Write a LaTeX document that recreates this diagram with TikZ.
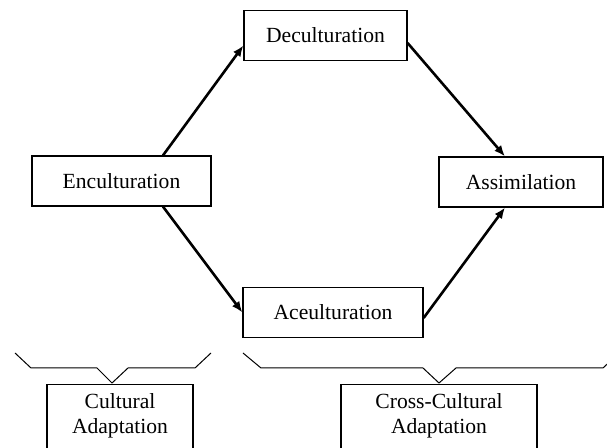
\documentclass[tikz,border=0pt]{standalone}
\usepackage{fontspec}
\setmainfont{Liberation Serif}
\usetikzlibrary{arrows.meta,calc}

\begin{document}
\begin{tikzpicture}[
  x=0.5pt, y=-0.5pt,
  >={Latex[length=5.5pt,width=4.5pt]},
  stage/.style={draw, line width=0.6pt, font=\fontsize{10.8pt}{12.5pt}\selectfont, minimum width=#1, minimum height=25pt, inner sep=0pt},
  adapt/.style={draw, line width=0.6pt, font=\fontsize{10.8pt}{12.5pt}\selectfont, align=center, anchor=north, minimum width=#1, inner ysep=4.5pt, text depth=25pt},
  arrow/.style={->, line width=1.3pt},
  brace/.style={line width=0.5pt}
]
\useasboundingbox (0,0) rectangle (607,448);
\clip (0,0) rectangle (607,448);

\node[stage=89.5pt] (enc) at (121.5,181) {Enculturation};
\node[stage=81.5pt] (dec) at (325.5,35.5) {Deculturation};
\node[stage=90pt] (acc) at (333,312.5) {Aceulturation};
\node[stage=82pt] (assim) at (521,182) {Assimilation};

\node[adapt=73pt] (cult) at (120,384) {Cultural\\Adaptation};
\node[adapt=98pt] (cross) at (439,384) {Cross-Cultural\\Adaptation};

\draw[arrow] ($(enc.north)+(41.5,0)$) -- ($(dec.west)+(0,10)$);
\draw[arrow] ($(enc.south)+(41.5,0)$) -- (acc.west);
\draw[arrow] ($(dec.east)+(0,7.5)$) -- ($(assim.north)+(-16,0)$);
\draw[arrow] ($(acc.east)+(0,5.5)$) -- ($(assim.south)+(-16,0)$);

% braces over the two groups
\draw[brace] (15,353) -- (31,368) -- (97,368) -- (112,383) -- (128,368) -- (195,368) -- (211,353);
\draw[brace] (243,353) -- (261,368) -- (423,368) -- (439,383) -- (456,368) -- (603,368) -- (619,353);

\end{tikzpicture}
\end{document}
